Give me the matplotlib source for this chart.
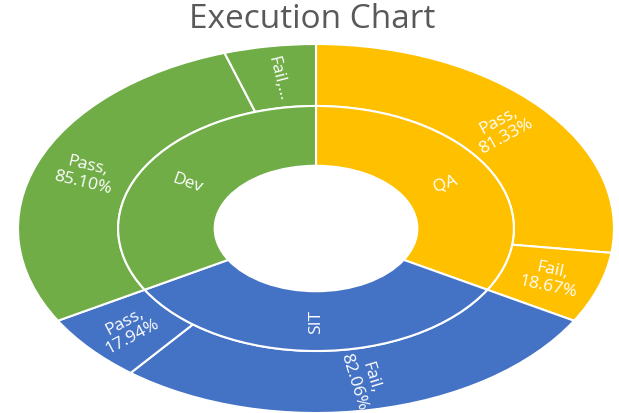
import numpy as np
import matplotlib.pyplot as plt

# datos
groups = ['QA', 'SIT', 'Dev']
group_colors = ['#FFC000', '#4472C4', '#70AD47']
outer_names = ['Pass', 'Fail', 'Fail', 'Pass', 'Pass', 'Fail']
outer_pct = [81.33, 18.67, 82.06, 17.94, 85.10, 14.90]
outer_group = [0, 0, 1, 1, 2, 2]
outer_text = ['Pass,\n81.33%', 'Fail,\n18.67%', 'Fail,\n82.06%',
              'Pass,\n17.94%', 'Pass,\n85.10%', 'Fail,…']

inner_vals = [sum(p for p, g in zip(outer_pct, outer_group) if g == i)
              for i in range(len(groups))]
outer_colors = [group_colors[g] for g in outer_group]

W, H = 619, 414
fig = plt.figure(figsize=(W / 100, H / 100), dpi=100)
fig.patch.set_facecolor('white')

# ejes estirados en horizontal (elipse como en el original)
ax_w, ax_h = 596, 369
ax = fig.add_axes([18 / W, 0, ax_w / W, ax_h / H])

r_out, r_mid, r_hole = 1.0, 0.664, 0.34
wedge_kw = dict(edgecolor='white', linewidth=1.5)

w_out, _ = ax.pie(outer_pct, radius=r_out, colors=outer_colors,
                  startangle=90, counterclock=False,
                  wedgeprops=dict(width=r_out - r_mid, **wedge_kw))
w_in, _ = ax.pie(inner_vals, radius=r_mid, colors=group_colors,
                 startangle=90, counterclock=False,
                 wedgeprops=dict(width=r_mid - r_hole, **wedge_kw))
ax.set_aspect('auto')
ax.set_xlim(-1, 1)
ax.set_ylim(-1, 1)
ax.axis('off')


def put_label(wedge, r, text, size):
    mid = np.deg2rad((wedge.theta1 + wedge.theta2) / 2)
    x, y = r * np.cos(mid), r * np.sin(mid)
    rot = np.degrees(np.arctan2(np.sin(mid) * ax_h, np.cos(mid) * ax_w))
    if rot > 90:
        rot -= 180
    elif rot < -90:
        rot += 180
    ax.text(x, y, text, color='white', fontsize=size, rotation=rot,
            rotation_mode='anchor', ha='center', va='center',
            linespacing=1.1, family='Open Sans')


for w, t in zip(w_in, groups):
    put_label(w, 0.50, t, 12.5)
for w, t in zip(w_out, outer_text):
    put_label(w, 0.83, t, 12.5)

fig.text(312 / W, 1 - 19 / H, 'Execution Chart', ha='center', va='center',
         fontsize=24, color='#595959', family='Open Sans')

fig.savefig('out.png', dpi=100)
